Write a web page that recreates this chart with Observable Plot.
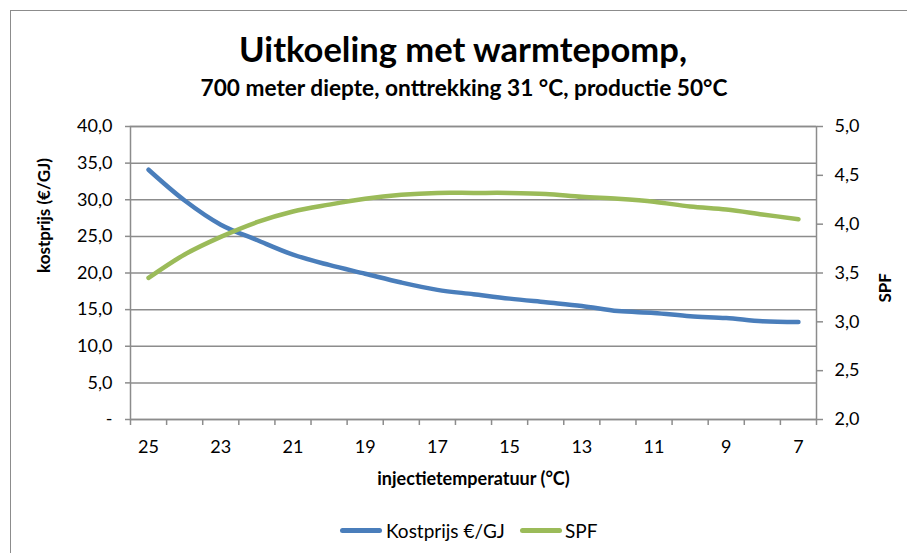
<!DOCTYPE html>
<html>
<head>
<meta charset="utf-8">
<script src="https://cdn.jsdelivr.net/npm/d3@7"></script>
<script src="https://cdn.jsdelivr.net/npm/@observablehq/plot@0.6"></script>
<style>
  body { margin: 0; background: #fff; }
  #wrap { position: relative; width: 907px; height: 553px; overflow: hidden; font-family: Lato, "Open Sans", sans-serif; color: #000; }
  #border { position: absolute; left: 10px; top: 10px; width: 1000px; height: 1000px; border: 1.5px solid #8c8c8c; box-sizing: border-box; }
  #chart { position: absolute; left: 0; top: 0; }
  .ttl { position: absolute; white-space: nowrap; font-weight: bold; line-height: 1; }
  .leg-line { position: absolute; height: 5px; border-radius: 3px; }
  .leg-text { position: absolute; white-space: nowrap; font-size: 19px; line-height: 1; }
</style>
</head>
<body>
<div id="wrap">
  <div id="border"></div>
  <div id="chart"></div>
  <div class="ttl" id="title">Uitkoeling met warmtepomp,</div>
  <div class="ttl" id="subtitle">700 meter diepte, onttrekking 31 °C, productie 50°C</div>
  <div class="leg-line" id="legLine1"></div>
  <div class="leg-text" id="legText1"></div>
  <div class="leg-line" id="legLine2"></div>
  <div class="leg-text" id="legText2"></div>
</div>
<script>
// ---- data ----
const temps = [25, 24, 23, 22, 21, 20, 19, 18, 17, 16, 15, 14, 13, 12, 11, 10, 9, 8, 7];
const kostprijs = [34.1, 29.9, 26.6, 24.5, 22.5, 21.1, 19.9, 18.7, 17.7, 17.1, 16.5, 16.0, 15.5, 14.8, 14.55, 14.1, 13.85, 13.4, 13.3];
const spf = [3.45, 3.69, 3.87, 4.02, 4.13, 4.20, 4.26, 4.30, 4.32, 4.32, 4.32, 4.31, 4.28, 4.26, 4.23, 4.18, 4.15, 4.10, 4.05];
const xTickLabels = [25, 23, 21, 19, 17, 15, 13, 11, 9, 7];
const leftTicks = [0, 5, 10, 15, 20, 25, 30, 35, 40];
const rightTicks = [2.0, 2.5, 3.0, 3.5, 4.0, 4.5, 5.0];
const seriesNames = ["Kostprijs €/GJ", "SPF"];
const seriesColors = ["#4a7ebb", "#9bbb59"];
const titleText = "Uitkoeling met warmtepomp,";
const subtitleText = "700 meter diepte, onttrekking 31 °C, productie 50°C";
const xLabel = "injectietemperatuur (°C)";
const yLabelLeft = "kostprijs (€/GJ)";
const yLabelRight = "SPF";

// ---- helpers ----
const spfMin = 2, spfMax = 5, leftMin = 0, leftMax = 40;
const toLeft = s => (s - spfMin) / (spfMax - spfMin) * (leftMax - leftMin) + leftMin;
const fromLeft = v => (v - leftMin) / (leftMax - leftMin) * (spfMax - spfMin) + spfMin;
const fmt1 = v => v.toFixed(1).replace(".", ",");
const categoryBounds = d3.range(temps.length + 1).map(i => temps[0] + 0.5 - i);

const data = temps.map((t, i) => ({ t, k: kostprijs[i], s: spf[i] }));
const gray = "#8c8c8c";

const chart = Plot.plot({
  width: 907,
  height: 553,
  marginLeft: 130,
  marginRight: 91,
  marginTop: 126,
  marginBottom: 134,
  style: { fontFamily: "Lato, 'Open Sans', sans-serif", fontSize: "18px", color: "#000", background: "transparent", overflow: "visible" },
  x: { domain: [temps[0] + 0.5, temps[temps.length - 1] - 0.5], label: null },
  y: { domain: [leftMin, leftMax], label: null },
  marks: [
    Plot.gridY(leftTicks, { stroke: gray, strokeOpacity: 1, strokeWidth: 1.5 }),
    Plot.frame({ stroke: gray, strokeWidth: 1.5 }),
    Plot.axisY(leftTicks, { anchor: "left", tickSize: 5, tickPadding: 13, stroke: gray, strokeWidth: 1.5, fill: "#000",
      tickFormat: v => v === 0 ? "-" : fmt1(v), label: null }),
    Plot.axisY(rightTicks.map(toLeft), { anchor: "right", tickSize: 6, tickPadding: 12, stroke: gray, strokeWidth: 1.5, fill: "#000",
      tickFormat: v => fmt1(fromLeft(v)), label: null }),
    Plot.axisX(categoryBounds, { anchor: "bottom", tickSize: 6, stroke: gray, strokeWidth: 1.5, tickFormat: () => "", label: null }),
    Plot.axisX(xTickLabels, { anchor: "bottom", tickSize: 0, tickPadding: 21, fill: "#000", tickFormat: d => String(d), label: null }),
    Plot.text([yLabelLeft], { frameAnchor: "left", dx: -86, rotate: -90, fontWeight: "bold", fontSize: 17, fill: "#000" }),
    Plot.text([yLabelRight], { frameAnchor: "right", dx: 69, rotate: -90, fontWeight: "bold", fontSize: 17, fill: "#000" }),
    Plot.text([xLabel], { frameAnchor: "bottom", dy: 65, fontWeight: "bold", fontSize: 18, fill: "#000" }),
    Plot.line(data, { x: "t", y: "k", stroke: seriesColors[0], strokeWidth: 4.5, curve: "catmull-rom", strokeLinecap: "round", strokeLinejoin: "round" }),
    Plot.line(data, { x: "t", y: d => toLeft(d.s), stroke: seriesColors[1], strokeWidth: 4.5, curve: "catmull-rom", strokeLinecap: "round", strokeLinejoin: "round" })
  ]
});
document.getElementById("chart").appendChild(chart);

// ---- titles: fit widths ----
function place(el, text, fontSize, targetWidth, centerX, baselineY) {
  el.textContent = text;
  el.style.fontSize = fontSize + "px";
  const w = el.getBoundingClientRect().width;
  const fs = fontSize * targetWidth / w;
  el.style.fontSize = fs + "px";
  const w2 = el.getBoundingClientRect().width;
  el.style.left = (centerX - w2 / 2) + "px";
  el.style.top = (baselineY - fs * 0.88) + "px";
}
place(document.getElementById("title"), titleText, 32, 448, 463, 62);
place(document.getElementById("subtitle"), subtitleText, 20, 527, 464, 97);

// ---- legend ----
const l1 = document.getElementById("legLine1"), l2 = document.getElementById("legLine2");
const t1 = document.getElementById("legText1"), t2 = document.getElementById("legText2");
l1.style.background = seriesColors[0]; l2.style.background = seriesColors[1];
t1.textContent = seriesNames[0]; t2.textContent = seriesNames[1];
l1.style.left = "340px"; l1.style.width = "42px"; l1.style.top = "528px";
t1.style.left = "386px"; t1.style.top = "521px";
l2.style.left = "520px"; l2.style.width = "42px"; l2.style.top = "528px";
t2.style.left = "565px"; t2.style.top = "521px";
</script>
</body>
</html>
